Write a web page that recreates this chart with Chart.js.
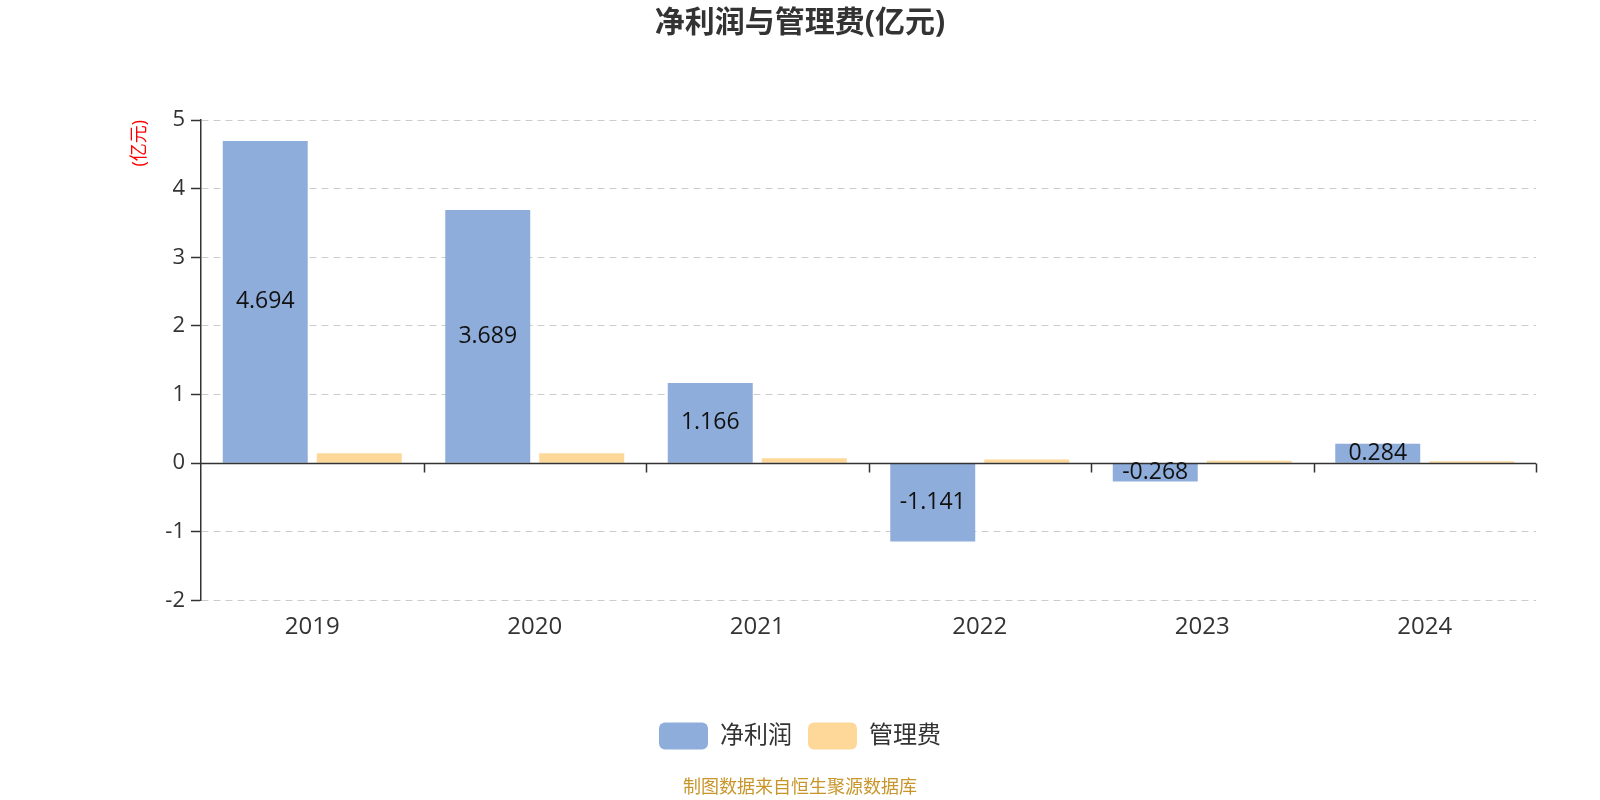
<!DOCTYPE html>
<html>
<head>
<meta charset="utf-8">
<script src="https://cdn.jsdelivr.net/npm/chart.js@4.4.0/dist/chart.umd.min.js"></script>
<style>
  html, body { margin: 0; padding: 0; background: #fff; }
</style>
</head>
<body>
<canvas id="profitChart" width="1600" height="800"></canvas>
<script>
const years = ['2019', '2020', '2021', '2022', '2023', '2024'];
const netProfit = [4.694, 3.689, 1.166, -1.141, -0.268, 0.284];
const adminCost = [0.145, 0.143, 0.072, 0.054, 0.036, 0.026];
const seriesNames = ['净利润', '管理费'];
const yMin = -2;
const yMax = 5;

const fontFamily = "'Open Sans', 'Noto Sans CJK SC', sans-serif";

// black zero line with tick marks between the years
const zeroAxis = {
    id: 'zeroAxis',
    afterDatasetsDraw(chart) {
        const ctx = chart.ctx;
        const xs = chart.scales.x;
        const y0 = Math.round(chart.scales.y.getPixelForValue(0)) + 0.5;
        ctx.save();
        ctx.strokeStyle = '#333';
        ctx.lineWidth = 1.5;
        ctx.beginPath();
        ctx.moveTo(xs.left, y0);
        ctx.lineTo(xs.right, y0);
        const step = xs.width / years.length;
        for (let i = 1; i <= years.length; i++) {
            const x = Math.round(xs.left + i * step) + 0.5;
            ctx.moveTo(x, y0);
            ctx.lineTo(x, y0 + 9);
        }
        ctx.stroke();
        ctx.restore();
    }
};

// value labels in the middle of the net profit bars
const barLabels = {
    id: 'barLabels',
    afterDatasetsDraw(chart) {
        const ctx = chart.ctx;
        const meta = chart.getDatasetMeta(0);
        ctx.save();
        ctx.font = '23px ' + fontFamily;
        ctx.fillStyle = '#111';
        ctx.textAlign = 'center';
        ctx.textBaseline = 'middle';
        meta.data.forEach((bar, i) => {
            ctx.fillText(netProfit[i].toFixed(3), bar.x, (bar.y + bar.base) / 2);
        });
        ctx.restore();
    }
};

new Chart(document.getElementById('profitChart').getContext('2d'), {
    type: 'bar',
    data: {
        labels: years,
        datasets: [{
            label: seriesNames[0],
            data: netProfit,
            backgroundColor: '#8eaddb',
            borderWidth: 0
        }, {
            label: seriesNames[1],
            data: adminCost,
            backgroundColor: '#fdd899',
            borderWidth: 0
        }]
    },
    options: {
        responsive: false,
        animation: false,
        devicePixelRatio: 1,
        layout: { padding: { left: 64, right: 64, top: 0, bottom: 0 } },
        datasets: {
            bar: { categoryPercentage: 0.845, barPercentage: 0.904 }
        },
        scales: {
            x: {
                grid: { display: false },
                border: { display: false },
                ticks: { color: '#333', font: { size: 24, family: fontFamily }, padding: 4 },
                afterFit(scale) { scale.height = 106; }
            },
            y: {
                min: yMin,
                max: yMax,
                ticks: { stepSize: 1, color: '#333', font: { size: 22, family: fontFamily }, padding: 6 },
                grid: { color: '#ccc', tickColor: '#333', tickLength: 10, tickWidth: 1.5 },
                border: { display: true, color: '#333', width: 1.5, dash: [7, 5] },
                title: {
                    display: true,
                    text: '(亿元)',
                    color: '#ff0000',
                    align: 'end',
                    font: { size: 18, family: fontFamily },
                    padding: { top: 65, bottom: 0 }
                },
                afterFit(scale) { scale.width = 137; }
            }
        },
        plugins: {
            title: {
                display: true,
                text: '净利润与管理费(亿元)',
                color: '#333',
                font: { size: 30, weight: 'bold', family: fontFamily },
                padding: { top: 5, bottom: 79 }
            },
            subtitle: {
                display: true,
                position: 'bottom',
                text: '制图数据来自恒生聚源数据库',
                color: '#c8952a',
                font: { size: 18, family: fontFamily },
                padding: { top: 18, bottom: 1 }
            },
            legend: {
                position: 'bottom',
                labels: {
                    boxWidth: 49,
                    boxHeight: 27,
                    useBorderRadius: true,
                    borderRadius: 6,
                    color: '#333',
                    padding: 16,
                    font: { size: 24, family: fontFamily }
                }
            },
            tooltip: { enabled: false }
        }
    },
    plugins: [zeroAxis, barLabels]
});
</script>
</body>
</html>
